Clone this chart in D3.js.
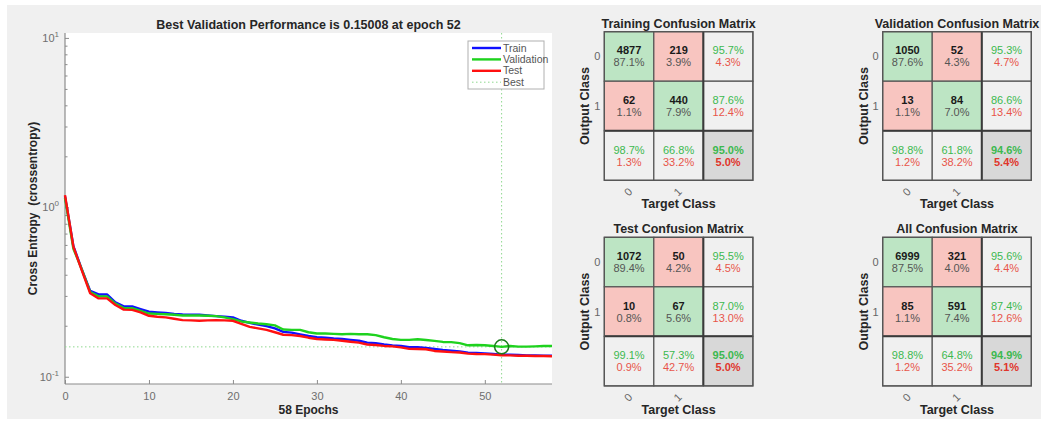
<!DOCTYPE html>
<html>
<head>
<meta charset="utf-8">
<script src="https://cdn.jsdelivr.net/npm/d3@7"></script>
<style>
  html, body { margin: 0; padding: 0; background: #ffffff; }
  svg { display: block; font-family: "Liberation Sans", Arial, Helvetica, sans-serif; }
</style>
</head>
<body>
<svg id="fig" width="1045" height="423"></svg>
<script>
// ---- Training record: cross-entropy per epoch (index = epoch) ----
const trainPerf = [1.16, 0.59, 0.43, 0.321, 0.306, 0.306, 0.275, 0.260, 0.260, 0.251,
  0.242, 0.240, 0.238, 0.235, 0.233, 0.232, 0.232, 0.230, 0.228, 0.226,
  0.224, 0.214, 0.208, 0.203, 0.199, 0.193, 0.184, 0.182, 0.178, 0.174,
  0.171, 0.170, 0.168, 0.167, 0.165, 0.163, 0.159, 0.158, 0.155, 0.153,
  0.152, 0.1493, 0.1493, 0.1479, 0.146, 0.144, 0.1424, 0.1411, 0.1387, 0.1380,
  0.1374, 0.1363, 0.1349, 0.1349, 0.1343, 0.1337, 0.1337, 0.1330, 0.1330];
const valPerf = [1.14, 0.57, 0.43, 0.316, 0.298, 0.298, 0.270, 0.254, 0.254, 0.245,
  0.236, 0.235, 0.234, 0.232, 0.230, 0.230, 0.230, 0.229, 0.228, 0.224,
  0.219, 0.212, 0.209, 0.206, 0.204, 0.201, 0.190, 0.189, 0.189, 0.183,
  0.180, 0.180, 0.179, 0.178, 0.179, 0.178, 0.178, 0.176, 0.171, 0.167,
  0.165, 0.165, 0.1663, 0.1648, 0.1627, 0.1605, 0.160, 0.158, 0.1533, 0.1539,
  0.1533, 0.152, 0.15008, 0.1518, 0.1506, 0.1505, 0.1510, 0.1518, 0.1518];
const testPerf = [1.18, 0.585, 0.425, 0.311, 0.290, 0.290, 0.265, 0.249, 0.248, 0.240,
  0.229, 0.226, 0.224, 0.220, 0.216, 0.215, 0.214, 0.215, 0.216, 0.215,
  0.214, 0.205, 0.197, 0.193, 0.189, 0.183, 0.177, 0.176, 0.174, 0.170,
  0.167, 0.166, 0.165, 0.163, 0.161, 0.159, 0.155, 0.154, 0.152, 0.151,
  0.149, 0.146, 0.1459, 0.1452, 0.142, 0.141, 0.1398, 0.139, 0.137, 0.1363,
  0.136, 0.135, 0.134, 0.1337, 0.133, 0.133, 0.1325, 0.1325, 0.132];
const bestEpoch = 52;
const bestPerf = 0.15008;
const epochCount = 58;
const xTicks = [0, 10, 20, 30, 40, 50];
const yMajorTicks = [0.1, 1, 10];
const yTickExponents = ["-1", "0", "1"];
const legendNames = ["Train", "Validation", "Test", "Best"];

// ---- Confusion matrices: counts [[out0/tgt0, out0/tgt1], [out1/tgt0, out1/tgt1]] ----
const matrixTitles = ["Training Confusion Matrix", "Validation Confusion Matrix",
                      "Test Confusion Matrix", "All Confusion Matrix"];
const trainingCounts = [[4877, 219], [62, 440]];
const validationCounts = [[1050, 52], [13, 84]];
const testCounts = [[1072, 50], [10, 67]];
const allCounts = [[6999, 321], [85, 591]];
const classLabels = ["0", "1"];

const svg = d3.select("#fig");

// figure panel
svg.append("rect").attr("x", 7).attr("y", 5).attr("width", 1034).attr("height", 414)
  .attr("fill", "#f0f0f0");

// ================= Performance plot =================
const P = { left: 65, right: 552, top: 33, bottom: 384 };
const x = d3.scaleLinear().domain([0, epochCount]).range([P.left, P.right]);
const y = d3.scaleLog().domain([0.0906, 10.69]).range([P.bottom, P.top]);

svg.append("rect").attr("x", P.left).attr("y", P.top)
  .attr("width", P.right - P.left).attr("height", P.bottom - P.top).attr("fill", "#ffffff");

const axisColor = "#8c8c8c";
const tickText = "#6e6e6e";

// y axis (log) with minor ticks pointing inward
const yMinor = [];
[0.1, 1].forEach(d => { for (let k = 2; k <= 9; k++) yMinor.push(d * k); });
const yAxisG = svg.append("g").attr("transform", `translate(${P.left},0)`)
  .call(d3.axisLeft(y).tickValues(yMajorTicks).tickSize(-4).tickFormat(""));
yAxisG.append("g").call(d3.axisLeft(y).tickValues(yMinor.filter(v => v < 10.69)).tickSize(-2.5).tickFormat(""));
yAxisG.selectAll(".domain").remove();
yAxisG.selectAll("line").attr("stroke", axisColor);
svg.append("line").attr("x1", P.left).attr("x2", P.left).attr("y1", P.top).attr("y2", P.bottom)
  .attr("stroke", axisColor).attr("stroke-width", 1.2);

yMajorTicks.forEach((v, i) => {
  const t = svg.append("text").attr("x", P.left - 6).attr("y", y(v) + 4)
    .attr("text-anchor", "end").attr("fill", tickText).attr("font-size", 11);
  t.append("tspan").text("10");
  t.append("tspan").attr("dy", -5).attr("font-size", 8).text(yTickExponents[i]);
});

// x axis with inward ticks
const xAxisG = svg.append("g").attr("transform", `translate(0,${P.bottom})`)
  .call(d3.axisBottom(x).tickValues(xTicks).tickSize(-4).tickPadding(8));
xAxisG.selectAll(".domain").remove();
xAxisG.selectAll("line").attr("stroke", axisColor);
xAxisG.selectAll("text").attr("fill", tickText).attr("font-size", 11)
  .attr("font-family", "Liberation Sans, Arial, sans-serif");
svg.append("line").attr("x1", P.left).attr("x2", P.right).attr("y1", P.bottom).attr("y2", P.bottom)
  .attr("stroke", axisColor).attr("stroke-width", 1.2);

// best markers
const bestColor = "#1a7a1a";
svg.append("line").attr("x1", x(bestEpoch)).attr("x2", x(bestEpoch))
  .attr("y1", P.top).attr("y2", P.bottom)
  .attr("stroke", "#8fd88f").attr("stroke-width", 1).attr("stroke-dasharray", "1.5,2.5");
svg.append("line").attr("x1", P.left).attr("x2", P.right)
  .attr("y1", y(bestPerf)).attr("y2", y(bestPerf))
  .attr("stroke", "#8fd88f").attr("stroke-width", 1).attr("stroke-dasharray", "1.5,2.5");

const line = d3.line().x((d, i) => x(i)).y(d => y(d));
const series = [
  { data: trainPerf, color: "#1010ff" },
  { data: valPerf, color: "#1ed21e" },
  { data: testPerf, color: "#ff1010" }
];
series.forEach(s => {
  svg.append("path").datum(s.data).attr("d", line)
    .attr("fill", "none").attr("stroke", s.color).attr("stroke-width", 2.4)
    .attr("stroke-linejoin", "round");
});

svg.append("circle").attr("cx", x(bestEpoch)).attr("cy", y(bestPerf)).attr("r", 7)
  .attr("fill", "none").attr("stroke", bestColor).attr("stroke-width", 1.5);

// title and labels
svg.append("text").attr("x", (P.left + P.right) / 2).attr("y", 29)
  .attr("text-anchor", "middle").attr("font-weight", "bold").attr("font-size", 12.5)
  .attr("fill", "#262626").text(`Best Validation Performance is ${bestPerf} at epoch ${bestEpoch}`);
svg.append("text").attr("x", (P.left + P.right) / 2).attr("y", 414)
  .attr("text-anchor", "middle").attr("font-weight", "bold").attr("font-size", 12)
  .attr("fill", "#262626").text(`${epochCount} Epochs`);
svg.append("text").attr("transform", `translate(37,${(P.top + P.bottom) / 2 - 0}) rotate(-90)`)
  .attr("text-anchor", "middle").attr("font-weight", "bold").attr("font-size", 12)
  .attr("fill", "#262626").attr("xml:space", "preserve").text("Cross Entropy  (crossentropy)");

// legend
const L = { x: 468, y: 41, w: 76, h: 48 };
svg.append("rect").attr("x", L.x).attr("y", L.y).attr("width", L.w).attr("height", L.h)
  .attr("fill", "#ffffff").attr("stroke", "#b0b0b0").attr("stroke-width", 1);
const legendStyles = [
  { color: "#1010ff", dash: null, w: 2.4 },
  { color: "#1ed21e", dash: null, w: 2.4 },
  { color: "#ff1010", dash: null, w: 2.4 },
  { color: "#8fd88f", dash: "1.5,2.5", w: 1 }
];
legendNames.forEach((name, i) => {
  const ly = L.y + 7 + i * 11.4;
  const ln = svg.append("line").attr("x1", L.x + 4).attr("x2", L.x + 33)
    .attr("y1", ly).attr("y2", ly).attr("stroke", legendStyles[i].color)
    .attr("stroke-width", legendStyles[i].w);
  if (legendStyles[i].dash) ln.attr("stroke-dasharray", legendStyles[i].dash);
  svg.append("text").attr("x", L.x + 35).attr("y", ly + 3.5).attr("font-size", 10.5)
    .attr("fill", "#555").text(name);
});

// ================= Confusion matrices =================
const cellGreen = "#bde5c4", cellRed = "#f8c5c0", cellGray = "#f0f0f0", cellCorner = "#d8d8d8";
const txtGreen = "#3cb94f", txtRed = "#e8554a";

function drawMatrix(counts, title, left, top) {
  const size = 148.6;
  const band = d3.scaleBand().domain([0, 1, 2]).range([0, size]);
  const g = svg.append("g").attr("transform", `translate(${left},${top})`);
  const total = d3.sum(counts.flat());
  const fmt = v => (100 * v).toFixed(1) + "%";
  const cells = [];
  for (let r = 0; r < 3; r++) {
    for (let c = 0; c < 3; c++) cells.push({ r, c });
  }
  cells.forEach(({ r, c }) => {
    let fill;
    if (r < 2 && c < 2) fill = r === c ? cellGreen : cellRed;
    else if (r === 2 && c === 2) fill = cellCorner;
    else fill = cellGray;
    g.append("rect").attr("x", band(c)).attr("y", band(r))
      .attr("width", band.bandwidth()).attr("height", band.bandwidth())
      .attr("fill", fill).attr("stroke", "#555").attr("stroke-width", 1.2);
    const cx = band(c) + band.bandwidth() / 2;
    const cy = band(r) + band.bandwidth() / 2;
    if (r < 2 && c < 2) {
      g.append("text").attr("x", cx).attr("y", cy - 2).attr("text-anchor", "middle")
        .attr("font-size", 11).attr("font-weight", "bold").attr("fill", "#1a1a1a")
        .text(counts[r][c]);
      g.append("text").attr("x", cx).attr("y", cy + 10).attr("text-anchor", "middle")
        .attr("font-size", 11).attr("fill", "#555").text(fmt(counts[r][c] / total));
    } else {
      let ok, n;
      if (r < 2 && c === 2) { ok = counts[r][r]; n = counts[r][0] + counts[r][1]; }
      else if (r === 2 && c < 2) { ok = counts[c][c]; n = counts[0][c] + counts[1][c]; }
      else { ok = counts[0][0] + counts[1][1]; n = total; }
      const bold = (r === 2 && c === 2) ? "bold" : "normal";
      g.append("text").attr("x", cx).attr("y", cy - 2).attr("text-anchor", "middle")
        .attr("font-size", 11).attr("font-weight", bold).attr("fill", txtGreen)
        .text(fmt(ok / n));
      g.append("text").attr("x", cx).attr("y", cy + 10).attr("text-anchor", "middle")
        .attr("font-size", 11).attr("font-weight", bold)
        .attr("fill", bold === "bold" ? "#e0352b" : txtRed).text(fmt(1 - ok / n));
    }
  });
  // heavier separators before the summary row/column
  g.append("line").attr("x1", band(2)).attr("x2", band(2)).attr("y1", 0).attr("y2", size)
    .attr("stroke", "#3a3a3a").attr("stroke-width", 2);
  g.append("line").attr("x1", 0).attr("x2", size).attr("y1", band(2)).attr("y2", band(2))
    .attr("stroke", "#3a3a3a").attr("stroke-width", 2);
  g.append("rect").attr("width", size).attr("height", size).attr("fill", "none")
    .attr("stroke", "#555").attr("stroke-width", 1.2);

  g.append("text").attr("x", size / 2).attr("y", -4).attr("text-anchor", "middle")
    .attr("font-size", 12.5).attr("font-weight", "bold").attr("fill", "#262626").text(title);
  classLabels.forEach((lab, i) => {
    const cc = band(i) + band.bandwidth() / 2;
    g.append("text").attr("x", -4).attr("y", cc + 4).attr("text-anchor", "end")
      .attr("font-size", 11).attr("fill", "#666").text(lab);
    g.append("text").attr("transform", `translate(${cc + 4},${size + 12}) rotate(-45)`)
      .attr("text-anchor", "end").attr("font-size", 11).attr("fill", "#666").text(lab);
  });
  g.append("text").attr("transform", `translate(-15,${band(1) + band.bandwidth() / 2}) rotate(-90)`)
    .attr("text-anchor", "middle").attr("font-size", 12.5).attr("font-weight", "bold")
    .attr("fill", "#262626").text("Output Class");
  g.append("text").attr("x", band(1) + band.bandwidth() / 2).attr("y", size + 28)
    .attr("text-anchor", "middle").attr("font-size", 12.5).attr("font-weight", "bold")
    .attr("fill", "#262626").text("Target Class");
}

drawMatrix(trainingCounts, matrixTitles[0], 604.3, 31.7);
drawMatrix(validationCounts, matrixTitles[1], 882.7, 31.7);
drawMatrix(testCounts, matrixTitles[2], 604.3, 237.3);
drawMatrix(allCounts, matrixTitles[3], 882.7, 237.3);
</script>
</body>
</html>
